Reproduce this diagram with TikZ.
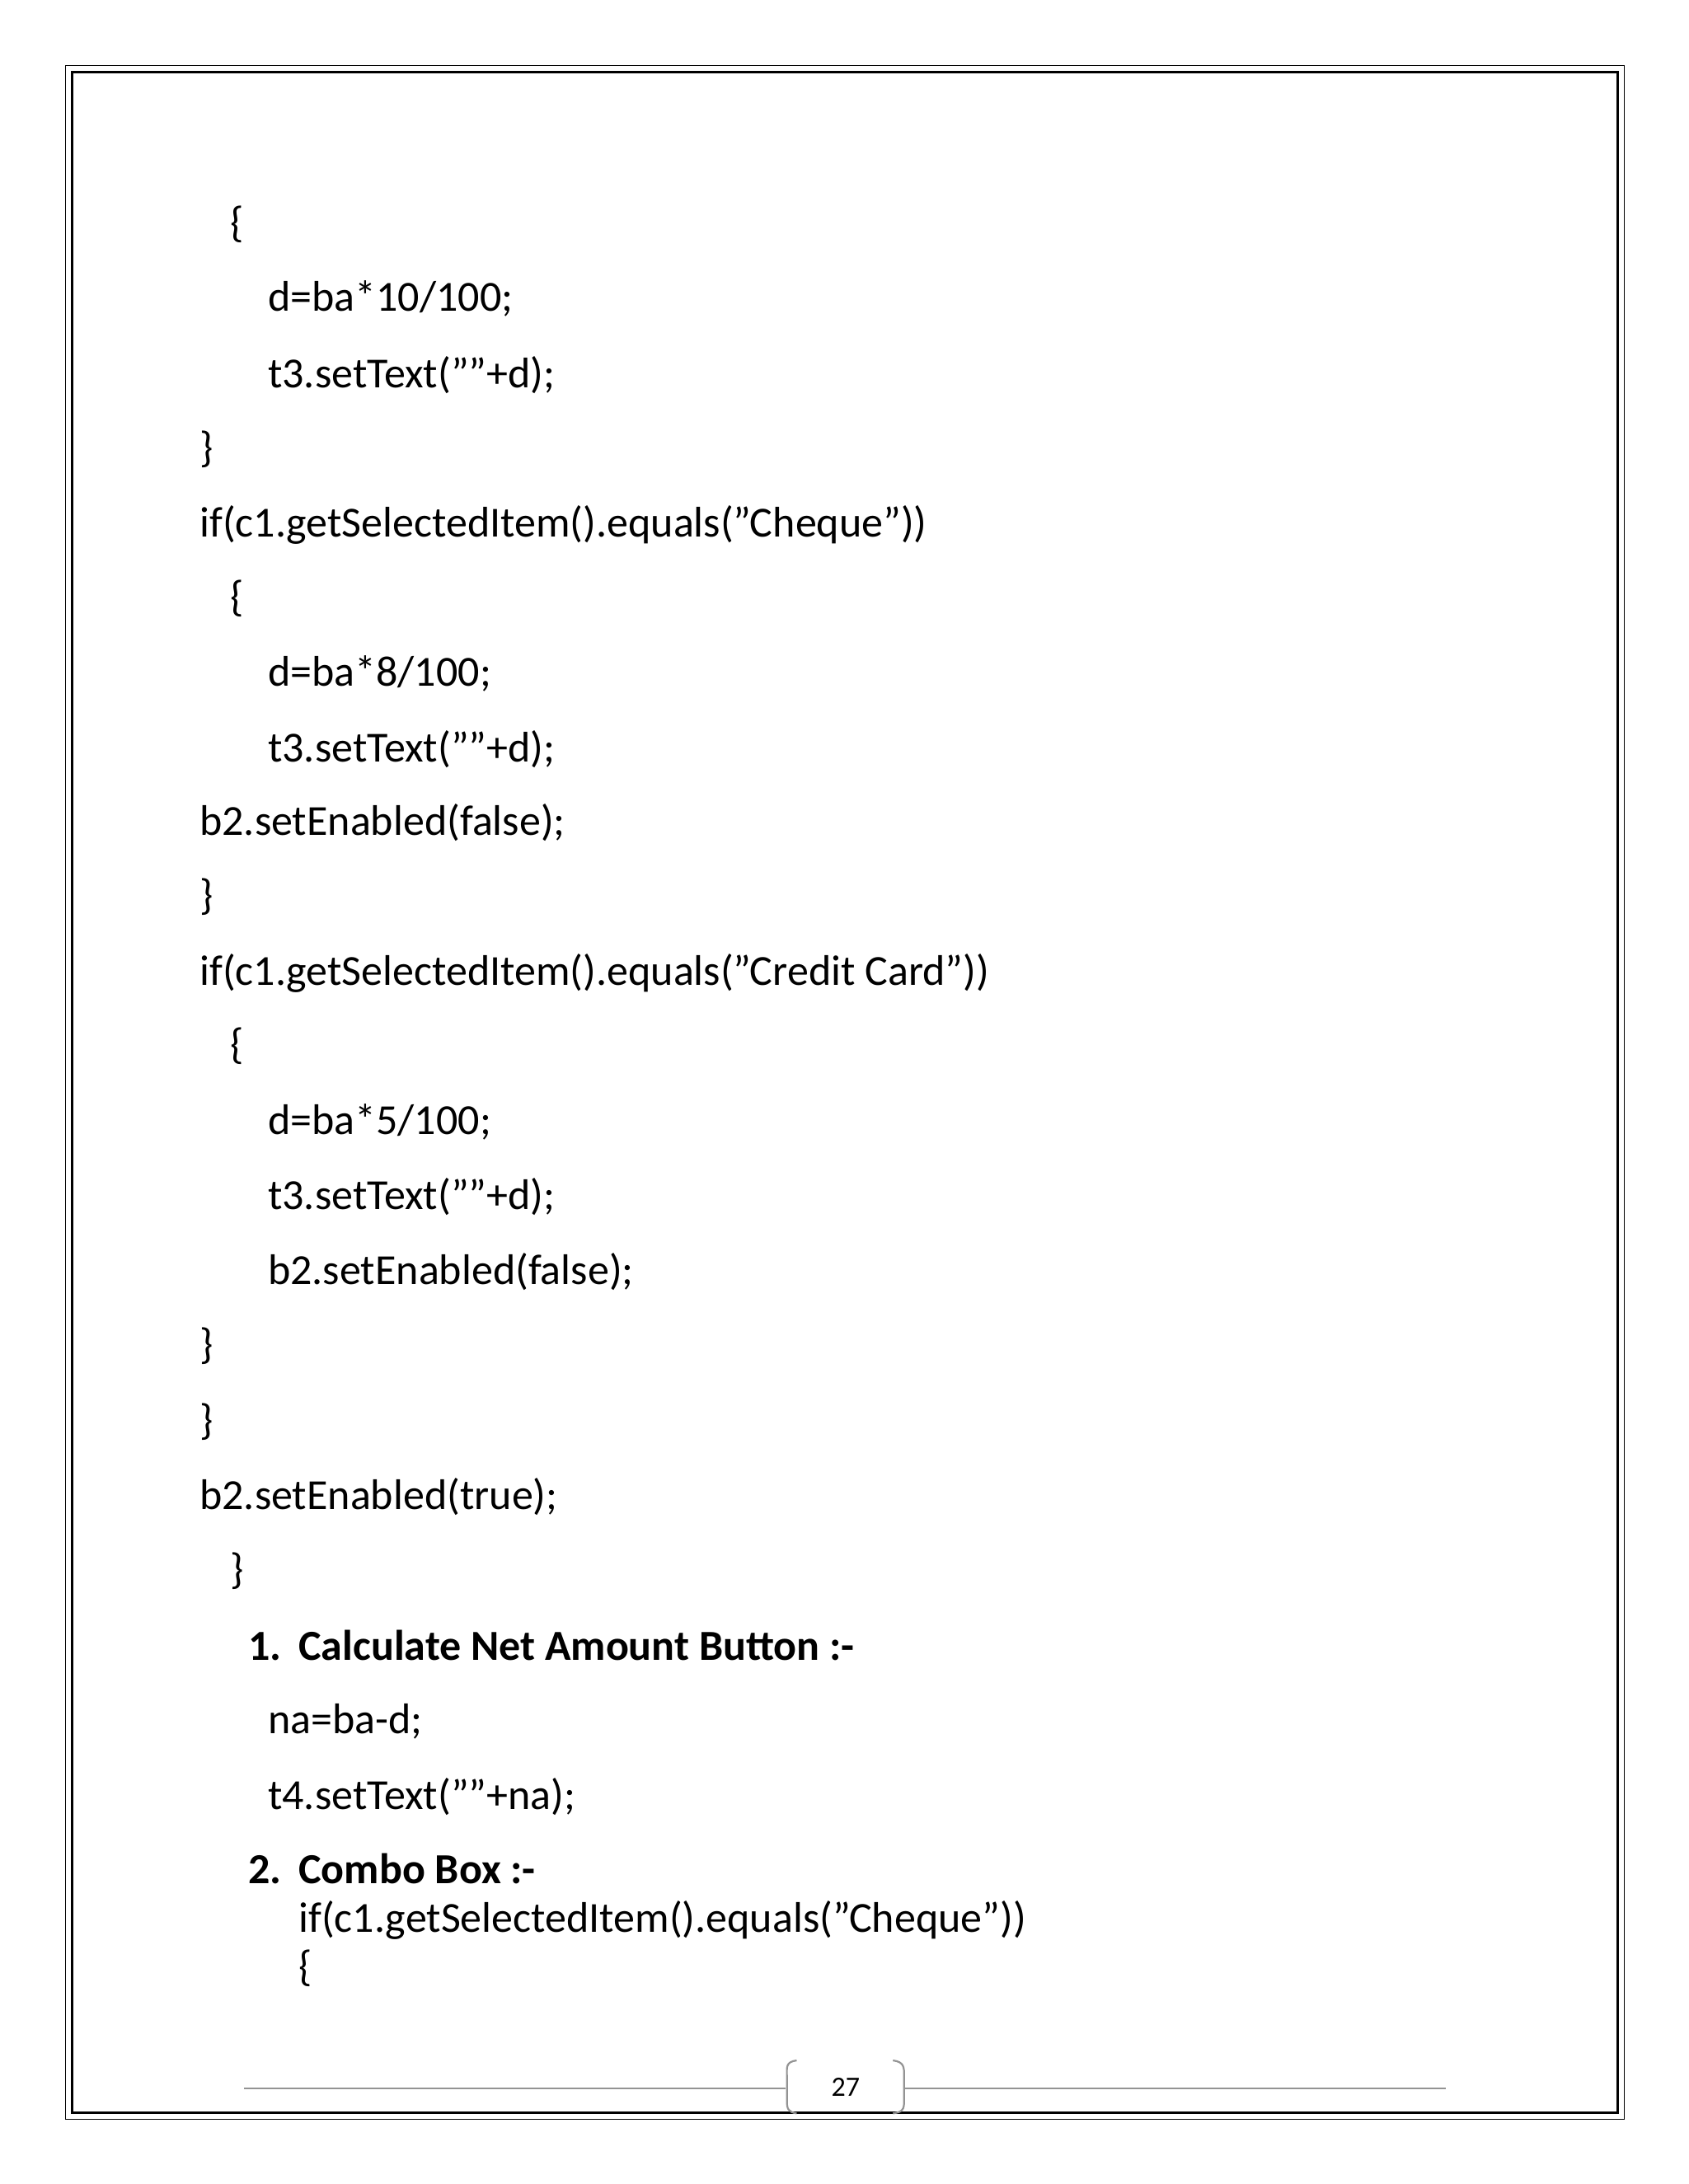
\documentclass[tikz,border=0pt]{standalone}
\usepackage{fontspec}
\setmainfont{Carlito}
\begin{document}
\begin{tikzpicture}[x=1.6926pt,y=-1.6926pt,
  code/.style={anchor=base west,inner sep=0pt,font=\fontsize{52}{60}\selectfont},
  bcode/.style={code,font=\fontsize{52}{60}\selectfont\bfseries},
  foot/.style={draw=gray!85,line width=2.2pt}]
\useasboundingbox (0,0) rectangle (1210,1565.6);
\draw[line width=1.3pt] (47,47) rectangle (1164,1519);
\draw[line width=3pt] (51.5,51.5) rectangle (1159.5,1514.5);
\def\b{10}
\node[code] (l1) at (165,160+\b) {\{};
\node[code] (l2) at (192,213+\b) {d=ba*10/100;};
\node[code] (l3) at (192,268+\b) {t3.setText(""+d);};
\node[code] (l4) at (143,321+\b) {\}};
\node[code] (l5) at (143,375+\b) {if(c1.getSelectedItem().equals("Cheque"))};
\node[code] (l6) at (165,428+\b) {\{};
\node[code] (l7) at (192,482+\b) {d=ba*8/100;};
\node[code] (l8) at (192,536+\b) {t3.setText(""+d);};
\node[code] (l9) at (143,589+\b) {b2.setEnabled(false);};
\node[code] (l10) at (143,642+\b) {\}};
\node[code] (l11) at (143,696+\b) {if(c1.getSelectedItem().equals("Credit Card"))};
\node[code] (l12) at (165,749+\b) {\{};
\node[code] (l13) at (192,803+\b) {d=ba*5/100;};
\node[code] (l14) at (192,857+\b) {t3.setText(""+d);};
\node[code] (l15) at (192,911+\b) {b2.setEnabled(false);};
\node[code] (l16) at (143,964+\b) {\}};
\node[code] (l17) at (143,1018+\b) {\}};
\node[code] (l18) at (143,1072+\b) {b2.setEnabled(true);};
\node[code] (l19) at (165,1125+\b) {\}};
\node[bcode] (n1) at (178,1180+\b) {1.};
\node[bcode] (h1) at (214,1180+\b) {Calculate Net Amount Button :-};
\node[code] (l20) at (192,1233+\b) {na=ba-d;};
\node[code] (l21) at (192,1287+\b) {t4.setText(""+na);};
\node[bcode] (n2) at (178,1340+\b) {2.};
\node[bcode] (h2) at (214,1340+\b) {Combo Box :-};
\node[code] (l22) at (214,1375+\b) {if(c1.getSelectedItem().equals("Cheque"))};
\node[code] (l23) at (214,1410+\b) {\{};
% footer
\draw[gray!85,line width=1.3pt] (175,1497) -- (563,1497);
\draw[gray!85,line width=1.3pt] (648,1497) -- (1036,1497);
\draw[foot] (571,1477) .. controls (563,1478) and (564,1482) .. (564,1488) -- (564,1506) .. controls (564,1512) and (565,1514) .. (571,1515);
\draw[foot] (640,1477) .. controls (648,1478) and (648,1482) .. (648,1488) -- (648,1506) .. controls (648,1512) and (647,1514) .. (640,1515);
\node[font=\fontsize{34}{40}\selectfont,inner sep=0pt] (pg) at (606,1496) {27};
\end{tikzpicture}
\end{document}
